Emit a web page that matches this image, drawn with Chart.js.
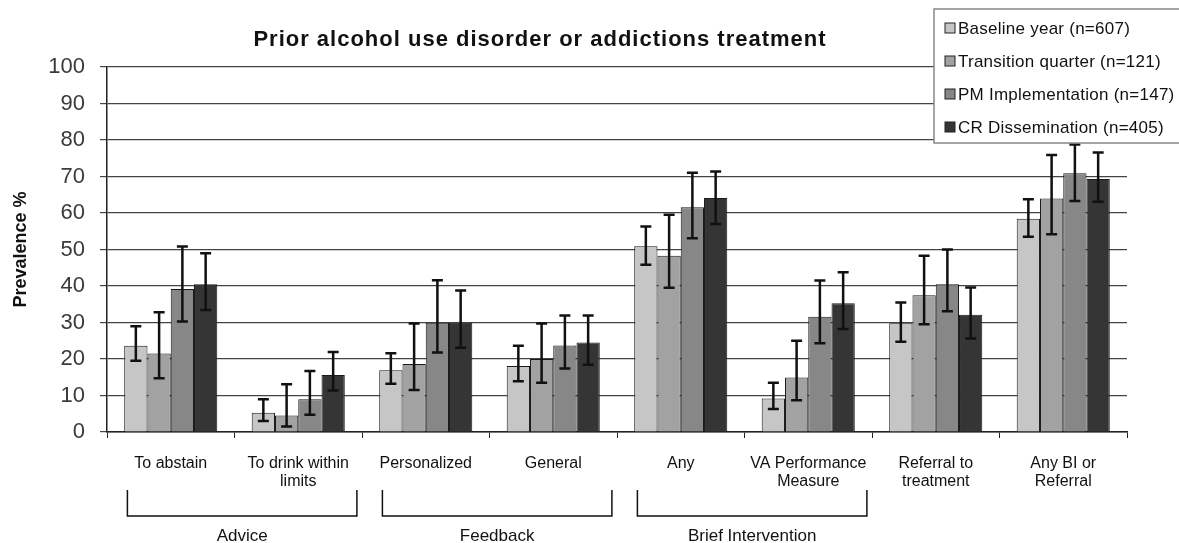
<!DOCTYPE html>
<html>
<head>
<meta charset="utf-8">
<script src="https://cdn.jsdelivr.net/npm/chart.js@4"></script>
<style>
  body { margin: 0; background: #fff; }
  canvas { display: block; }
</style>
</head>
<body>
<canvas id="chart" width="1179" height="543"></canvas>
<script>
// 카테고리 / 그룹
const categories = [
    ['To abstain'], ['To drink within', 'limits'], ['Personalized'], ['General'],
    ['Any'], ['VA Performance', 'Measure'], ['Referral to', 'treatment'], ['Any BI or', 'Referral']
];
const groupLabels = ['Advice', 'Feedback', 'Brief Intervention'];
const groupStart = [0, 2, 4];
const yTicks = [0, 10, 20, 30, 40, 50, 60, 70, 80, 90, 100];

const seriesLabels = ['Baseline year (n=607)', 'Transition quarter (n=121)', 'PM Implementation (n=147)', 'CR Dissemination (n=405)'];
const seriesColors = ['#c6c6c6', '#a2a2a2', '#878787', '#353535'];

// 값 + 신뢰구간
const baseline     = [23.6, 5.3, 16.9, 18.1, 50.9, 9.2, 29.8, 58.4];
const baselineLow  = [19.5, 3.0, 13.2, 13.9, 45.8, 6.3, 24.7, 53.5];
const baselineHigh = [29.0, 9.0, 21.6, 23.6, 56.3, 13.5, 35.5, 63.8];

const transition     = [21.5, 4.5, 18.6, 20.0, 48.3, 14.9, 37.5, 64.0];
const transitionLow  = [14.7, 1.5, 11.5, 13.5, 39.5, 8.7, 29.5, 54.2];
const transitionHigh = [32.8, 13.1, 29.7, 29.7, 59.5, 25.0, 48.3, 75.9];

const pm     = [39.2, 9.0, 29.9, 23.7, 61.6, 31.6, 40.5, 70.9];
const pmLow  = [30.3, 4.7, 21.8, 17.4, 53.1, 24.3, 33.1, 63.3];
const pmHigh = [50.8, 16.7, 41.6, 31.9, 71.0, 41.5, 50.0, 78.8];

const cr     = [40.5, 15.6, 29.9, 24.5, 64.1, 35.3, 32.1, 69.3];
const crLow  = [33.4, 11.4, 23.1, 18.4, 57.0, 28.2, 25.6, 63.1];
const crHigh = [49.0, 21.9, 38.8, 31.9, 71.4, 43.8, 39.6, 76.6];

const values = [baseline, transition, pm, cr];
const lows = [baselineLow, transitionLow, pmLow, crLow];
const highs = [baselineHigh, transitionHigh, pmHigh, crHigh];

const FONT = '"Liberation Sans", Arial, sans-serif';

// 에러바
const errorBars = {
    id: 'errorBars',
    afterDatasetsDraw(chart) {
        const ctx = chart.ctx;
        const y = chart.scales.y;
        ctx.save();
        ctx.strokeStyle = '#111';
        ctx.lineWidth = 2.5;
        chart.data.datasets.forEach((ds, i) => {
            const meta = chart.getDatasetMeta(i);
            meta.data.forEach((bar, j) => {
                const top = y.getPixelForValue(ds.errHigh[j]);
                const bot = y.getPixelForValue(ds.errLow[j]);
                ctx.beginPath();
                ctx.moveTo(bar.x, top); ctx.lineTo(bar.x, bot);
                ctx.moveTo(bar.x - 5.5, top); ctx.lineTo(bar.x + 5.5, top);
                ctx.moveTo(bar.x - 5.5, bot); ctx.lineTo(bar.x + 5.5, bot);
                ctx.stroke();
            });
        });
        ctx.restore();
    }
};

// 제목, 그룹 괄호, 범례
const decorations = {
    id: 'decorations',
    afterDraw(chart) {
        const ctx = chart.ctx;
        const x = chart.scales.x;
        ctx.save();

        ctx.fillStyle = '#111';
        ctx.font = 'bold 22px ' + FONT;
        ctx.letterSpacing = '1px';
        ctx.textAlign = 'center';
        ctx.textBaseline = 'middle';
        ctx.fillText('Prior alcohol use disorder or addictions treatment', 540, 40);
        ctx.letterSpacing = '0px';

        // 그룹 괄호
        const w = (x.right - x.left) / categories.length;
        ctx.strokeStyle = '#111';
        ctx.lineWidth = 1.5;
        ctx.font = '17px ' + FONT;
        groupLabels.forEach((label, g) => {
            const l = x.left + groupStart[g] * w + 0.16 * w;
            const r = x.left + (groupStart[g] + 2) * w - 0.04 * w;
            ctx.beginPath();
            ctx.moveTo(l, 490); ctx.lineTo(l, 516); ctx.lineTo(r, 516); ctx.lineTo(r, 490);
            ctx.stroke();
            ctx.fillText(label, (l + r) / 2, 536);
        });

        // 범례
        ctx.fillStyle = '#fff';
        ctx.fillRect(934, 9, 260, 134);
        ctx.strokeStyle = '#888';
        ctx.lineWidth = 1.5;
        ctx.strokeRect(934, 9, 260, 134);
        ctx.textAlign = 'left';
        ctx.font = '17px ' + FONT;
        ctx.letterSpacing = '0.25px';
        chart.data.datasets.forEach((ds, i) => {
            const cy = 28 + i * 33;
            ctx.fillStyle = ds.backgroundColor;
            ctx.fillRect(945, cy - 5, 10, 10);
            ctx.strokeStyle = '#222';
            ctx.lineWidth = 1;
            ctx.strokeRect(945, cy - 5, 10, 10);
            ctx.fillStyle = '#111';
            ctx.fillText(ds.label, 958, cy + 1);
        });
        ctx.restore();
    }
};

const datasets = values.map((v, i) => ({
    label: seriesLabels[i],
    data: v,
    errLow: lows[i],
    errHigh: highs[i],
    backgroundColor: seriesColors[i],
    borderColor: '#1a1a1a',
    borderWidth: 1,
    categoryPercentage: 0.73,
    barPercentage: 1.0
}));

new Chart(document.getElementById('chart'), {
    type: 'bar',
    data: { labels: categories, datasets },
    options: {
        responsive: false,
        animation: false,
        layout: { padding: { top: 67, right: 52, left: 0, bottom: 0 } },
        plugins: {
            legend: { display: false },
            title: { display: false },
            tooltip: { enabled: false }
        },
        scales: {
            x: {
                grid: { offset: true, drawOnChartArea: false, drawTicks: true, tickLength: 6, color: '#222' },
                border: { color: '#222', width: 1.5 },
                ticks: { font: { size: 16, family: FONT, lineHeight: 1.15 }, color: '#111', padding: 16, maxRotation: 0, autoSkip: false },
                afterFit: s => { s.height = 111; }
            },
            y: {
                min: 0, max: 100,
                afterBuildTicks: s => { s.ticks = yTicks.map(v => ({ value: v })); },
                grid: { color: '#444', lineWidth: 1.2, tickLength: 7 },
                border: { color: '#222', width: 1.5 },
                ticks: { font: { size: 22, family: FONT }, color: '#3a3a3a', padding: 15 },
                title: { display: true, text: 'Prevalence %', color: '#111', font: { size: 18, weight: 'bold', family: FONT }, padding: { top: 10 } },
                afterFit: s => { s.width = 107; }
            }
        }
    },
    plugins: [errorBars, decorations]
});
</script>
</body>
</html>
